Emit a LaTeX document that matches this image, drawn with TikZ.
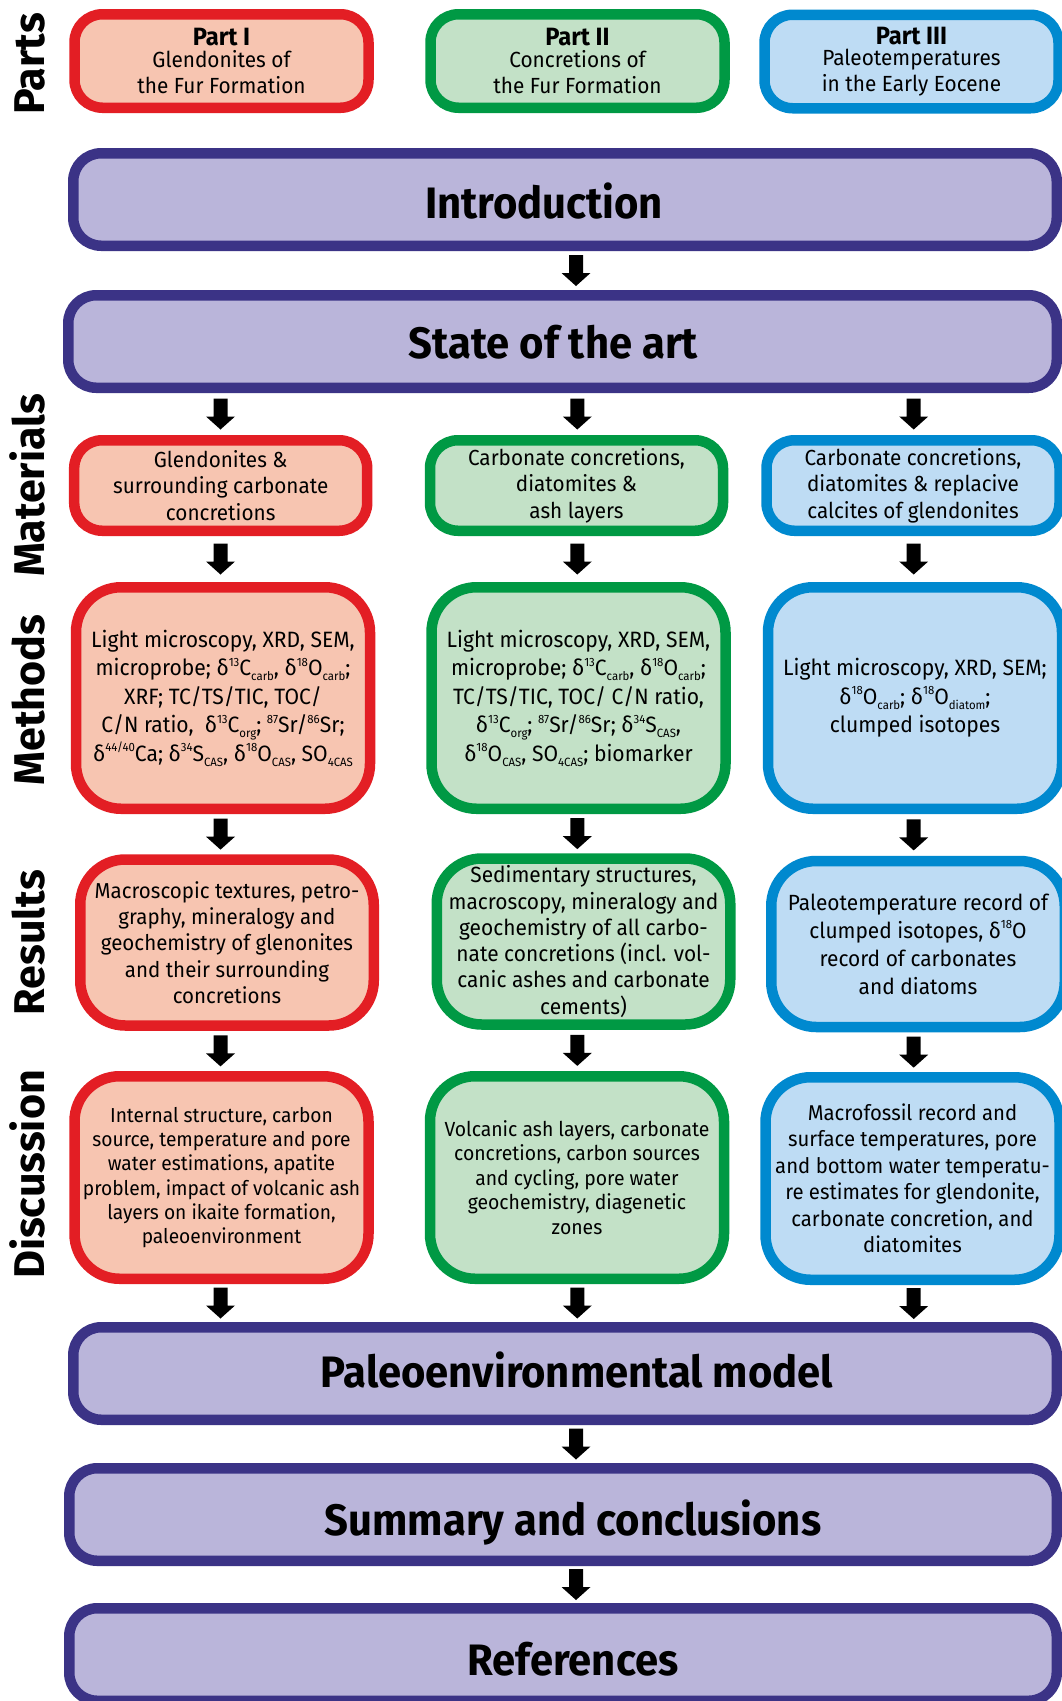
\documentclass[tikz,border=0pt]{standalone}
\usepackage{fontspec}
\setmainfont{Fira Sans}[FakeStretch=0.95]
\newfontfamily\ttlfont{Fira Sans}[FakeStretch=0.95]
\newfontfamily\lblfont{Fira Sans}
\usetikzlibrary{calc}
\definecolor{redB}{RGB}{227,30,36}
\definecolor{redF}{RGB}{247,197,177}
\definecolor{grnB}{RGB}{0,153,68}
\definecolor{grnF}{RGB}{195,225,199}
\definecolor{bluB}{RGB}{0,137,207}
\definecolor{bluF}{RGB}{190,220,244}
\definecolor{purB}{RGB}{59,51,134}
\definecolor{purF}{RGB}{186,181,218}
\newcommand\spx[1]{\raisebox{0.42em}{\fontsize{12}{12}\selectfont #1}}
\newcommand\sbx[1]{\raisebox{-0.22em}{\fontsize{12}{12}\selectfont #1}}
\newcommand\bigarrow[3]{%
  \path (#1 -| #3) coordinate (aS) (#2 -| #3) coordinate (aE);
  \path ($(aS)!0.5!(aE)$) coordinate (aM);
  \fill[black] ($(aM)+(-7,-15.5)$) -- ($(aM)+(7,-15.5)$) -- ($(aM)+(7,2.5)$) -- ($(aM)+(14.5,2.5)$) -- ($(aM)+(0,15.5)$) -- ($(aM)+(-14.5,2.5)$) -- ($(aM)+(-7,2.5)$) -- cycle;}
\tikzset{
  boxbase/.style={draw, line width=10.5pt, align=center, inner sep=0pt, text=black},
  redbox/.style={boxbase, draw=redB, fill=redF},
  grnbox/.style={boxbase, draw=grnB, fill=grnF},
  blubox/.style={boxbase, draw=bluB, fill=bluF},
  purbox/.style={boxbase, draw=purB, fill=purF, rounded corners=28pt, minimum height=92.5pt},
  smallR/.style={rounded corners=28pt},
  bigR/.style={rounded corners=45pt},
  rowlabel/.style={rotate=90, anchor=base, inner sep=0pt, font={\lblfont\bfseries\fontsize{43}{43}\selectfont}},
  title/.style={anchor=base, inner sep=0pt, font={\ttlfont\bfseries\fontsize{44}{44}\selectfont}},
  partsrow/.style={smallR, minimum width=294pt, minimum height=93.5pt, font={\fontsize{21.9}{25.6}\selectfont}},
  matrow/.style={smallR, minimum width=293pt, minimum height=90.5pt, font={\fontsize{21.8}{26.5}\selectfont}},
  methrow/.style={bigR, minimum width=294pt, minimum height=221.5pt, font={\fontsize{22.2}{28.5}\selectfont}},
  resrow/.style={bigR, minimum width=293.5pt, minimum height=166pt, font={\fontsize{22}{26.3}\selectfont}},
  disrow/.style={bigR, minimum width=294pt, minimum height=202.5pt, font={\fontsize{20.3}{24.3}\selectfont}},
}
\newcommand\parthead[1]{{\ttlfont\bfseries\fontsize{25}{25}\selectfont #1}}
\begin{document}
\begin{tikzpicture}[x=1pt,y=-1pt]
\fill[white] (0,0) rectangle (1061,1701);
\useasboundingbox (0,0) rectangle (1061,1701);
% column coordinates
\coordinate (colA) at (220.5,0);
\coordinate (colB) at (577.3,0);
\coordinate (colC) at (913.7,0);
\coordinate (colM) at (576,0);
% row labels
\node[rowlabel] (lParts) at (45,64) {Parts};
\node[rowlabel] (lMat) at (45,485.5) {Materials};
\node[rowlabel] (lMeth) at (45,700) {Methods};
\node[rowlabel] (lRes) at (45,942.5) {Results};
\node[rowlabel] (lDis) at (45,1174.5) {Discussion};
% parts
\node[redbox, partsrow] (p1) at (221.5,61) {\parthead{Part I}\\[-4pt]Glendonites of\\the Fur Formation};
\node[grnbox, partsrow] (p2) at (577.5,61) {\parthead{Part II}\\[-4pt]Concretions of\\the Fur Formation};
\node[blubox, partsrow] (p3) at (911.5,61.5) {\parthead{Part III}\\[-4pt]Paleotemperatures\\in the Early Eocene};
% intro and state of the art
\node[purbox, minimum width=983.5pt] (intro) at (565,199.5) {};
\node[title] (introT) at (544,218) {Introduction};
\node[purbox, minimum width=988.5pt] (state) at (562.5,341.5) {};
\node[title] (stateT) at (553.5,358) {State of the art};
% materials
\node[redbox, matrow] (m1) at (220.7,485.5) {Glendonites \&\\surrounding carbonate\\concretions};
\node[grnbox, matrow] (m2) at (576.5,485.5) {Carbonate concretions,\\diatomites \&\\ash layers};
\node[blubox, matrow] (m3) at (913,485.5) {Carbonate concretions,\\diatomites \& replacive\\calcites of glendonites};
% methods
\node[redbox, methrow] (t1) at (223,698) {Light microscopy, XRD, SEM,\\microprobe; δ\spx{13}C\sbx{carb}, δ\spx{18}O\sbx{carb};\\XRF; TC/TS/TIC, TOC/\\C/N ratio,\ \ δ\spx{13}C\sbx{org}; \spx{87}Sr/\spx{86}Sr;\\δ\spx{44/40}Ca; δ\spx{34}S\sbx{CAS}, δ\spx{18}O\sbx{CAS}, SO\sbx{4CAS}};
\node[grnbox, methrow] (t2) at (578.5,698) {Light microscopy, XRD, SEM,\\microprobe; δ\spx{13}C\sbx{carb}, δ\spx{18}O\sbx{carb};\\TC/TS/TIC, TOC/ C/N ratio,\\δ\spx{13}C\sbx{org}; \spx{87}Sr/\spx{86}Sr; δ\spx{34}S\sbx{CAS},\\δ\spx{18}O\sbx{CAS}, SO\sbx{4CAS}; biomarker};
\node[blubox, methrow] (t3) at (915,698) {Light microscopy, XRD, SEM;\\δ\spx{18}O\sbx{carb}; δ\spx{18}O\sbx{diatom};\\clumped isotopes};
% results
\node[redbox, resrow, font={\fontsize{21.6}{26.3}\selectfont}] (r1) at (227,942.5) {Macroscopic textures, petro-\\graphy, mineralogy and\\geochemistry of glenonites\\and their surrounding\\concretions};
\node[grnbox, resrow] (r2) at (583.5,941.5) {Sedimentary structures,\\macroscopy, mineralogy and\\geochemistry of all carbo-\\nate concretions (incl. vol-\\canic ashes and carbonate\\cements)};
\node[blubox, resrow, font={\fontsize{22}{28}\selectfont}] (r3) at (918,944) {Paleotemperature record of\\clumped isotopes, δ\spx{18}O\\record of carbonates\\and diatoms};
% discussion
\node[redbox, disrow, font={\fontsize{20.2}{24.2}\selectfont}] (d1) at (221.5,1177.5) {Internal structure, carbon\\source, temperature and pore\\water estimations, apatite\\problem, impact of volcanic ash\\layers on ikaite formation,\\paleoenvironment};
\node[grnbox, disrow, font={\fontsize{20.4}{24.4}\selectfont}] (d2) at (577,1177.5) {Volcanic ash layers, carbonate\\concretions, carbon sources\\and cycling, pore water\\geochemistry, diagenetic\\zones};
\node[blubox, disrow, font={\fontsize{21.4}{26.5}\selectfont}] (d3) at (912.5,1178.5) {Macrofossil record and\\surface temperatures, pore\\and bottom water temperatu-\\re estimates for glendonite,\\carbonate concretion, and\\diatomites};
% bottom boxes
\node[purbox, minimum width=983.5pt] (paleo) at (565,1373.5) {};
\node[title] (paleoT) at (577,1387) {Paleoenvironmental model};
\node[purbox, minimum width=987.5pt] (summ) at (563,1514.5) {};
\node[title] (summT) at (573,1535) {Summary and conclusions};
\node[purbox, minimum width=987.5pt] (refs) at (563,1654.5) {};
\node[title] (refsT) at (573,1675) {References};
% arrows
\bigarrow{intro.south}{state.north}{colM}
\bigarrow{state.south}{m1.north}{colA}
\bigarrow{state.south}{m2.north}{colB}
\bigarrow{state.south}{m3.north}{colC}
\bigarrow{m1.south}{t1.north}{colA}
\bigarrow{m2.south}{t2.north}{colB}
\bigarrow{m3.south}{t3.north}{colC}
\bigarrow{t1.south}{r1.north}{colA}
\bigarrow{t2.south}{r2.north}{colB}
\bigarrow{t3.south}{r3.north}{colC}
\bigarrow{r1.south}{d1.north}{colA}
\bigarrow{r2.south}{d2.north}{colB}
\bigarrow{r3.south}{d3.north}{colC}
\bigarrow{d1.south}{paleo.north}{colA}
\bigarrow{d2.south}{paleo.north}{colB}
\bigarrow{d3.south}{paleo.north}{colC}
\bigarrow{paleo.south}{summ.north}{colM}
\bigarrow{summ.south}{refs.north}{colM}
\end{tikzpicture}
\end{document}
